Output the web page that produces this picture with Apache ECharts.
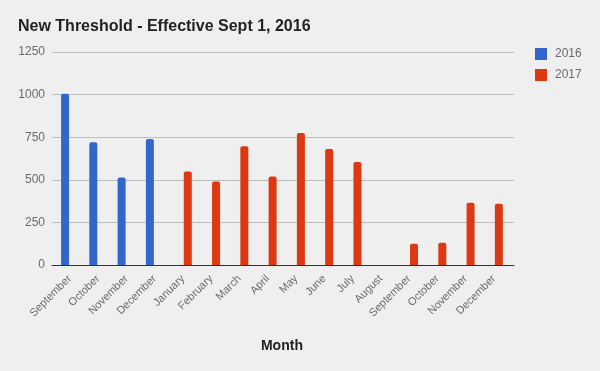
<!DOCTYPE html>
<html>
<head>
<meta charset="utf-8">
<script src="https://cdn.jsdelivr.net/npm/echarts@6/dist/echarts.min.js"></script>
<style>
html,body{margin:0;padding:0;background:#efefef;}
#chart{width:600px;height:371px;}
</style>
</head>
<body>
<div id="chart"></div>
<script>
var titleText = 'New Threshold - Effective Sept 1, 2016';
var categories = ['September','October','November','December','January','February','March','April','May','June','July','August','September','October','November','December'];
var seriesNames = ['2016','2017'];
var values2016 = [1005, 720, 513, 740, null, null, null, null, null, null, null, null, null, null, null, null];
var values2017 = [null, null, null, null, 549, 490, 697, 519, 775, 681, 605, null, 125, 131, 366, 360];
var yMin = 0, yMax = 1250, yInterval = 250;
var xAxisName = 'Month';

var font = 'Arial, "Liberation Sans", sans-serif';
var chart = echarts.init(document.getElementById('chart'));
chart.setOption({
  backgroundColor: '#efefef',
  animation: false,
  title: {
    text: titleText, left: 13, top: 14,
    textStyle: {fontFamily: font, fontSize: 16, fontWeight: 'bold', color: '#222'}
  },
  legend: {
    orient: 'vertical', left: 535, top: 48, padding: 0,
    itemWidth: 12, itemHeight: 12, itemGap: 9, icon: 'rect',
    textStyle: {fontFamily: font, fontSize: 12, color: '#6b6b6b', padding: [0,0,0,3]},
    data: seriesNames
  },
  grid: [
    {left: 52, right: 86, top: 52, bottom: 106},
    {left: 55.7, width: 452.5, top: 52, bottom: 106}
  ],
  xAxis: [
    {gridIndex: 0, type: 'value', min: 0, max: 1,
      axisLine: {show: true, lineStyle: {color: '#333', width: 1}},
      axisTick: {show: false}, axisLabel: {show: false}, splitLine: {show: false}},
    {gridIndex: 1, type: 'category', data: categories,
      axisLine: {show: false}, axisTick: {show: false},
      axisLabel: {rotate: 45, margin: 12, interval: 0, fontFamily: font, fontSize: 11, color: '#6b6b6b'},
      name: xAxisName, nameLocation: 'middle', nameGap: 74,
      nameTextStyle: {fontFamily: font, fontSize: 14, fontWeight: 'bold', color: '#222'}}
  ],
  yAxis: [
    {gridIndex: 0, type: 'value', min: yMin, max: yMax, interval: yInterval,
      axisLine: {show: false}, axisTick: {show: false},
      axisLabel: {margin: 7, fontFamily: font, fontSize: 12, color: '#6b6b6b',
        formatter: function (v) { return String(v); }},
      splitLine: {lineStyle: {color: '#bdbdbd', width: 1}}},
    {gridIndex: 1, type: 'value', min: yMin, max: yMax, show: false, splitLine: {show: false}}
  ],
  series: [
    {name: seriesNames[0], type: 'bar', xAxisIndex: 1, yAxisIndex: 1, data: values2016,
      barWidth: 8, barGap: '20%', itemStyle: {color: '#3366cc', borderRadius: [2,2,0,0]}},
    {name: seriesNames[1], type: 'bar', xAxisIndex: 1, yAxisIndex: 1, data: values2017,
      barWidth: 8, barGap: '20%', itemStyle: {color: '#dc3912', borderRadius: [2,2,0,0]}}
  ]
});
</script>
</body>
</html>
